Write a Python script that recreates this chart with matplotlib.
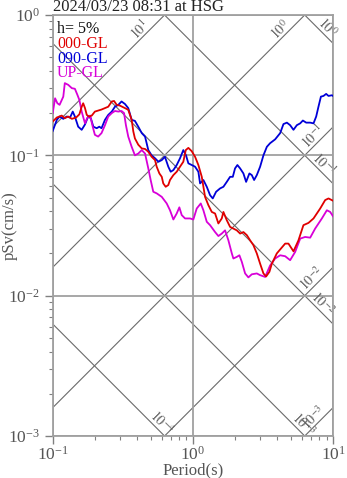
import numpy as np
import matplotlib
matplotlib.use("Agg")
import matplotlib.pyplot as plt
from matplotlib.ticker import LogLocator, NullFormatter

plt.rcParams['font.family'] = ['Liberation Serif', 'DejaVu Serif']
plt.rcParams['mathtext.fontset'] = 'stix'

title = "2024/03/23 08:31 at HSG"
damping_label = "h= 5%"
series_names = ["000-GL", "090-GL", "UP-GL"]
series_colors = ["#e00000", "#0000d8", "#d800d8"]

# ---- 000-GL ----
period_000 = [0.100, 0.107, 0.116, 0.122, 0.129, 0.137, 0.147, 0.155, 0.161, 0.165,
              0.170, 0.175, 0.182, 0.190, 0.200, 0.223, 0.249, 0.264, 0.274, 0.286,
              0.302, 0.328, 0.346, 0.366, 0.376, 0.386, 0.408, 0.432, 0.456, 0.481,
              0.508, 0.537, 0.552, 0.577, 0.600, 0.615, 0.640, 0.668, 0.687, 0.726,
              0.767, 0.810, 0.855, 0.890, 0.929, 0.982, 1.037, 1.095, 1.158, 1.222,
              1.290, 1.365, 1.441, 1.521, 1.608, 1.652, 1.746, 1.844, 2.059, 2.174,
              2.295, 2.427, 2.562, 2.704, 2.860, 3.020, 3.189, 3.333, 3.519, 3.661,
              3.972, 4.557, 4.809, 5.224, 5.670, 6.152, 6.683, 7.261, 8.102, 8.795,
              9.290, 10.0]
sv_000 = [0.174, 0.186, 0.192, 0.184, 0.189, 0.182, 0.186, 0.196, 0.222, 0.235,
          0.217, 0.194, 0.189, 0.192, 0.205, 0.212, 0.222, 0.242, 0.244, 0.229,
          0.226, 0.217, 0.211, 0.179, 0.148, 0.132, 0.119, 0.112, 0.111, 0.106,
          0.0977, 0.0925, 0.0830, 0.0743, 0.0703, 0.0631, 0.0597, 0.0614, 0.0667, 0.0723,
          0.0764, 0.0830, 0.0900, 0.109, 0.113, 0.107, 0.0977, 0.0853, 0.0703, 0.0506,
          0.0442, 0.0395, 0.0385, 0.0327, 0.0355, 0.0395, 0.0345, 0.0309, 0.0292, 0.0277,
          0.0284, 0.0270, 0.0248, 0.0229, 0.0200, 0.0169, 0.0144, 0.0137, 0.0148, 0.0169,
          0.0200, 0.0235, 0.0235, 0.0207, 0.0248, 0.0318, 0.0330, 0.0355, 0.0418, 0.0480,
          0.0493, 0.0475]

# ---- 090-GL ----
period_090 = [0.100, 0.107, 0.112, 0.119, 0.126, 0.133, 0.139, 0.144, 0.152, 0.161,
              0.170, 0.179, 0.187, 0.195, 0.206, 0.215, 0.223, 0.236, 0.249, 0.264,
              0.278, 0.294, 0.310, 0.328, 0.346, 0.366, 0.386, 0.408, 0.432, 0.456,
              0.481, 0.508, 0.537, 0.568, 0.600, 0.632, 0.668, 0.695, 0.726, 0.767,
              0.810, 0.855, 0.894, 0.929, 0.982, 1.037, 1.095, 1.126, 1.189, 1.257,
              1.327, 1.387, 1.465, 1.564, 1.652, 1.746, 1.844, 1.928, 2.000, 2.079,
              2.174, 2.295, 2.399, 2.532, 2.634, 2.736, 2.860, 3.020, 3.189, 3.373,
              3.557, 3.865, 4.198, 4.431, 4.688, 4.945, 5.224, 5.521, 5.834, 6.095,
              6.437, 6.873, 7.261, 7.586, 7.875, 8.199, 8.551, 8.937, 9.290, 9.820,
              10.0]
sv_090 = [0.149, 0.179, 0.189, 0.182, 0.189, 0.186, 0.205, 0.189, 0.160, 0.152,
          0.166, 0.189, 0.184, 0.160, 0.156, 0.160, 0.156, 0.179, 0.194, 0.205,
          0.222, 0.229, 0.242, 0.232, 0.217, 0.179, 0.176, 0.160, 0.144, 0.136,
          0.109, 0.100, 0.0953, 0.0900, 0.0925, 0.0977, 0.0830, 0.0764, 0.0785, 0.0853,
          0.0953, 0.109, 0.100, 0.0877, 0.0853, 0.0830, 0.0764, 0.0631, 0.0667, 0.0597,
          0.0520, 0.0493, 0.0550, 0.0581, 0.0597, 0.0647, 0.0703, 0.0703, 0.0807, 0.0853,
          0.0807, 0.0743, 0.0647, 0.0743, 0.0723, 0.0667, 0.0723, 0.0830, 0.100, 0.115,
          0.122, 0.130, 0.144, 0.167, 0.171, 0.164, 0.152, 0.164, 0.169, 0.177,
          0.171, 0.171, 0.169, 0.189, 0.222, 0.262, 0.265, 0.274, 0.265, 0.268,
          0.265]

# ---- UP-GL ----
period_up = [0.100, 0.104, 0.108, 0.112, 0.119, 0.122, 0.129, 0.137, 0.144, 0.150,
             0.155, 0.161, 0.170, 0.176, 0.185, 0.193, 0.200, 0.211, 0.223, 0.236,
             0.249, 0.264, 0.278, 0.294, 0.310, 0.323, 0.333, 0.346, 0.366, 0.386,
             0.408, 0.432, 0.456, 0.481, 0.500, 0.522, 0.552, 0.600, 0.651, 0.687,
             0.726, 0.767, 0.801, 0.833, 0.880, 0.955, 1.008, 1.066, 1.139, 1.189,
             1.257, 1.327, 1.441, 1.521, 1.608, 1.698, 1.793, 1.897, 1.946, 2.059,
             2.148, 2.236, 2.360, 2.490, 2.634, 2.860, 3.020, 3.280, 3.557, 3.865,
             4.198, 4.557, 4.945, 5.370, 5.834, 6.324, 6.873, 7.464, 8.330, 9.040,
             9.550, 10.0]
sv_up = [0.200, 0.255, 0.235, 0.229, 0.262, 0.327, 0.318, 0.301, 0.298, 0.270,
         0.248, 0.205, 0.169, 0.184, 0.192, 0.160, 0.140, 0.136, 0.144, 0.164,
         0.189, 0.200, 0.207, 0.205, 0.207, 0.200, 0.164, 0.136, 0.115, 0.100,
         0.103, 0.109, 0.103, 0.0807, 0.0667, 0.0550, 0.0536, 0.0506, 0.0454, 0.0406,
         0.0349, 0.0385, 0.0426, 0.0375, 0.0355, 0.0355, 0.0349, 0.0418, 0.0454, 0.0406,
         0.0336, 0.0318, 0.0284, 0.0266, 0.0277, 0.0292, 0.0248, 0.0200, 0.0184, 0.0189,
         0.0194, 0.0174, 0.0144, 0.0135, 0.0142, 0.0144, 0.0140, 0.0136, 0.0164, 0.0184,
         0.0194, 0.0191, 0.0179, 0.0205, 0.0255, 0.0262, 0.0259, 0.0301, 0.0355, 0.0406,
         0.0395, 0.0368]

# tripartite guide lines (acceleration in cm/s^2, displacement in cm)
accel_levels = [1e-3, 1e-2, 1e-1, 1e0, 1e1]
disp_levels = [1e-4, 1e-3, 1e-2, 1e-1, 1e0]
accel_label_T = [7.88, 7.67, 7.84, 4.56, 0.456]
disp_label_T = [0.552, 5.67, 7.8, 7.88, 8.33]

W, H = 347, 478
fig = plt.figure(figsize=(W / 100, H / 100), dpi=100)
ax = fig.add_axes([52.7 / W, 42 / H, 280.3 / W, 421 / H])
ax.set_xscale('log')
ax.set_yscale('log')
ax.set_xlim(0.1, 10)
ax.set_ylim(1e-3, 1)

ax.grid(True, which='major', color='#a0a0a0', lw=1.3, zorder=0)
for s in ax.spines.values():
    s.set_color('#a0a0a0')
    s.set_linewidth(1.3)

Tline = np.array([0.05, 20.0])
two_pi = 2 * np.pi
for A in accel_levels:
    ax.plot(Tline, A * Tline / two_pi, color='#6a6a6a', lw=0.8, zorder=1)
for D in disp_levels:
    ax.plot(Tline, two_pi * D / Tline, color='#6a6a6a', lw=0.8, zorder=1)

def exp_label(v):
    e = int(round(np.log10(v)))
    return r'$10^{%d}$' % e

for A, T in zip(accel_levels, accel_label_T):
    ax.annotate(exp_label(A), xy=(T, A * T / two_pi), xytext=(-5, 5),
                textcoords='offset pixels', rotation=45, ha='center', va='center',
                color='#606060', fontsize=10, rotation_mode='anchor', zorder=2)
for D, T in zip(disp_levels, disp_label_T):
    ax.annotate(exp_label(D), xy=(T, two_pi * D / T), xytext=(5, 5),
                textcoords='offset pixels', rotation=-45, ha='center', va='center',
                color='#606060', fontsize=10, rotation_mode='anchor', zorder=2)

ax.plot(period_000, sv_000, color=series_colors[0], lw=1.3, zorder=4)
ax.plot(period_090, sv_090, color=series_colors[1], lw=1.3, zorder=3)
ax.plot(period_up, sv_up, color=series_colors[2], lw=1.3, zorder=3)

ax.xaxis.set_major_locator(LogLocator(base=10, numticks=10))
ax.yaxis.set_major_locator(LogLocator(base=10, numticks=10))
ax.xaxis.set_minor_locator(LogLocator(base=10, subs=np.arange(2, 10), numticks=20))
ax.yaxis.set_minor_locator(LogLocator(base=10, subs=np.arange(2, 10), numticks=20))
ax.xaxis.set_minor_formatter(NullFormatter())
ax.yaxis.set_minor_formatter(NullFormatter())
ax.tick_params(which='major', length=6, width=1, color='#808080', labelsize=12.5,
               labelcolor='#555555', direction='out', pad=3)
ax.tick_params(which='minor', length=3, width=0.8, color='#808080', direction='out')
ax.tick_params(axis='x', which='major', pad=1)

ax.set_xlabel('Period(s)', fontsize=12, color='#555555', va='center')
ax.set_ylabel('pSv(cm/s)', fontsize=12, color='#555555', va='center')
ax.xaxis.set_label_coords(0.5, (436 - 470.5) / 421)
ax.yaxis.set_label_coords((10 - 52.7) / 280.3, 0.5)

fig.text(52.7 / W, 1 - 7 / H, title, fontsize=12, color='#222222',
         ha='left', va='center')

ys = [29, 44, 59, 73]
ax.text(0.016, (436 - ys[0]) / 421, damping_label, transform=ax.transAxes,
        fontsize=11.5, color='#111111', ha='left', va='center', zorder=5)
for name, c, y in zip(series_names, series_colors, ys[1:]):
    ax.text(0.016, (436 - y) / 421, name, transform=ax.transAxes, fontsize=11.5,
            color=c, ha='left', va='center', zorder=5)

fig.savefig('out.png', dpi=100)
